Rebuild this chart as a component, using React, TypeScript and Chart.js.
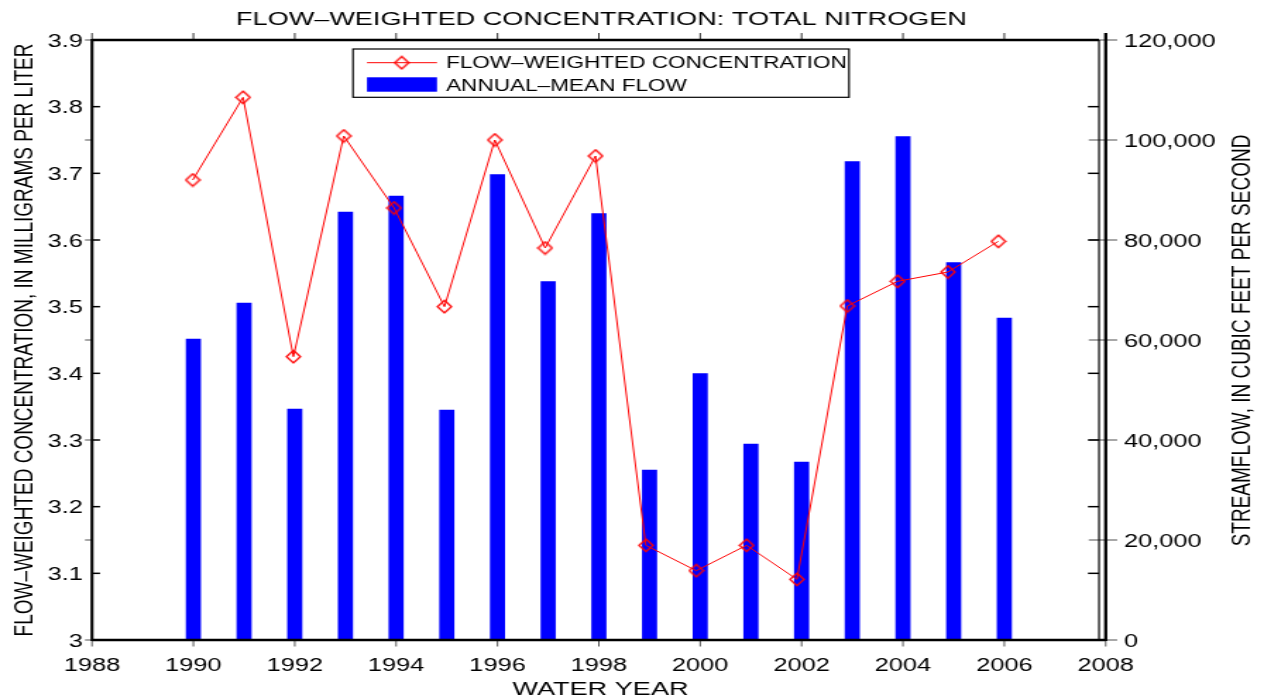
import React, { useEffect, useRef } from 'react';
import { Chart, registerables } from 'chart.js';

Chart.register(...registerables);

// ---- data ----
const years = [1990, 1991, 1992, 1993, 1994, 1995, 1996, 1997, 1998, 1999, 2000, 2001, 2002, 2003, 2004, 2005, 2006];
const concentration = [3.69, 3.814, 3.425, 3.756, 3.648, 3.5, 3.75, 3.588, 3.726, 3.142, 3.104, 3.142, 3.091, 3.501, 3.538, 3.552, 3.598];
const meanFlow = [60200, 67400, 46200, 85600, 88800, 46000, 93100, 71700, 85300, 34000, 53300, 39200, 35600, 95700, 100700, 75500, 64400];

const yearTicks = [1988, 1990, 1992, 1994, 1996, 1998, 2000, 2002, 2004, 2006, 2008];
const concTicks = [3, 3.1, 3.2, 3.3, 3.4, 3.5, 3.6, 3.7, 3.8, 3.9];
const concTickLabels = ['3', '3.1', '3.2', '3.3', '3.4', '3.5', '3.6', '3.7', '3.8', '3.9'];
const flowTicks = [0, 20000, 40000, 60000, 80000, 100000, 120000];
const flowTickLabels = ['0', '20,000', '40,000', '60,000', '80,000', '100,000', '120,000'];

const titleText = 'FLOW\u2013WEIGHTED CONCENTRATION: TOTAL NITROGEN';
const leftAxisTitle = 'FLOW\u2013WEIGHTED CONCENTRATION, IN MILLIGRAMS PER LITER';
const rightAxisTitle = 'STREAMFLOW, IN CUBIC FEET PER SECOND';
const xAxisTitle = 'WATER YEAR';
const concLabel = 'FLOW\u2013WEIGHTED CONCENTRATION';
const flowLabel = 'ANNUAL\u2013MEAN FLOW';

// ---- layout ----
// The canvas is rendered at a narrower backing width and widened with CSS,
// which gives the wide lettering of the figure.
const PAGE_W = 1264;
const H = 696;
const W = 896;
const S = PAGE_W / W;
const X = (v: number) => v / S; // page px -> canvas px (horizontal)

const PLOT_LEFT = X(92);
const PLOT_RIGHT = X(1105.7);
const INNER_RIGHT = X(1099);
const PLOT_TOP = 40;
const PLOT_BOTTOM = 640;

const FONT = '"Liberation Sans", Arial, Helvetica, sans-serif';

function makeDiamond(color: string): HTMLCanvasElement {
  const c = document.createElement('canvas');
  c.width = 12;
  c.height = 15;
  const g = c.getContext('2d')!;
  g.strokeStyle = color;
  g.lineWidth = 1.3;
  g.beginPath();
  g.moveTo(6, 1.25);
  g.lineTo(11, 7.5);
  g.lineTo(6, 13.75);
  g.lineTo(1, 7.5);
  g.closePath();
  g.stroke();
  return c;
}

function line(ctx: CanvasRenderingContext2D, x1: number, y1: number, x2: number, y2: number) {
  ctx.beginPath();
  ctx.moveTo(x1, y1);
  ctx.lineTo(x2, y2);
  ctx.stroke();
}

const framePlugin = {
  id: 'frame',
  afterDraw(chart: any) {
    const { ctx, chartArea, scales } = chart;
    const xs = scales.x;
    const ys = scales.y;
    const y2 = scales.y2;
    const x2 = scales.x2;
    const left = chartArea.left;
    const right = chartArea.right;
    const top = chartArea.top;
    const bottom = chartArea.bottom;
    const innerRight = x2.getPixelForValue(2008);

    ctx.save();

    // streamflow ticks (grey)
    ctx.strokeStyle = '#8a8a8a';
    ctx.lineWidth = 1.5;
    flowTicks.forEach((v) => {
      const y = y2.getPixelForValue(v);
      line(ctx, left - X(7), y, left, y);
      line(ctx, right - X(17), y, right + X(11.5), y);
    });

    // concentration ticks (inward, both sides of the inner box)
    ctx.strokeStyle = '#000';
    ctx.lineWidth = 1.5;
    concTicks.forEach((v) => {
      const y = ys.getPixelForValue(v);
      line(ctx, left, y, left + X(8), y);
      line(ctx, innerRight, y, innerRight - X(11), y);
    });

    // year ticks
    ctx.lineWidth = 1;
    yearTicks.forEach((v) => {
      const x = xs.getPixelForValue(v);
      ctx.strokeStyle = '#555';
      line(ctx, x, bottom, x, bottom + 6.5);
      ctx.strokeStyle = '#333';
      line(ctx, x, top, x, top - 7);
    });

    // axes lines
    ctx.strokeStyle = '#000';
    ctx.lineWidth = 2.1;
    line(ctx, left, top - 1, left, bottom + 1);
    ctx.lineWidth = 2.3;
    line(ctx, left, top, innerRight, top);
    line(ctx, left, bottom, right, bottom);
    ctx.lineWidth = 1.2;
    line(ctx, innerRight, top, innerRight, bottom);
    ctx.lineWidth = 2.3;
    line(ctx, right, top - 7, right, bottom + 1);

    // tick labels
    ctx.fillStyle = '#000';
    ctx.font = `18px ${FONT}`;
    ctx.textBaseline = 'alphabetic';
    ctx.textAlign = 'right';
    concTicks.forEach((v, i) => {
      ctx.fillText(concTickLabels[i], X(83), ys.getPixelForValue(v) + 6.6);
    });
    ctx.textAlign = 'left';
    flowTicks.forEach((v, i) => {
      ctx.fillText(flowTickLabels[i], X(1124), y2.getPixelForValue(v) + 6.6);
    });
    ctx.textAlign = 'center';
    yearTicks.forEach((v) => {
      ctx.fillText(String(v), xs.getPixelForValue(v), 670.7);
    });

    // titles
    ctx.font = `19.2px ${FONT}`;
    ctx.fillText(titleText, X(601.5), 25);
    ctx.fillText(xAxisTitle, X(600.5), 694.5);

    ctx.font = `19px ${FONT}`;
    const capHalf = 6.8;
    ctx.save();
    ctx.translate(X(23.3), 340);
    ctx.rotate(-Math.PI / 2);
    ctx.fillText(leftAxisTitle, 0, capHalf);
    ctx.restore();

    ctx.save();
    ctx.translate(X(1240.7), 340.5);
    ctx.rotate(-Math.PI / 2);
    ctx.fillText(rightAxisTitle, 0, capHalf);
    ctx.restore();

    // legend
    const ds = chart.data.datasets;
    const lineDs = ds[0];
    const barDs = ds[1];
    ctx.fillStyle = '#fff';
    ctx.fillRect(X(353), 49, X(849) - X(353), 48.3);
    ctx.strokeStyle = '#000';
    ctx.lineWidth = 1.2;
    ctx.strokeRect(X(353), 49, X(849) - X(353), 48.3);

    ctx.strokeStyle = lineDs.borderColor;
    ctx.lineWidth = 1;
    line(ctx, X(367), 62.7, X(437), 62.7);
    const img = lineDs.pointStyle as HTMLCanvasElement;
    ctx.drawImage(img, X(401.7) - img.width / 2, 62.7 - img.height / 2);

    ctx.fillStyle = barDs.backgroundColor;
    ctx.fillRect(X(367), 77.3, X(437) - X(367), 14.4);

    ctx.fillStyle = '#000';
    ctx.font = `16px ${FONT}`;
    ctx.textAlign = 'left';
    ctx.fillText(lineDs.label, X(446), 68.3);
    ctx.fillText(barDs.label, X(446), 90.7);

    ctx.restore();
  },
};

export default function App() {
  const ref = useRef<HTMLCanvasElement | null>(null);

  useEffect(() => {
    if (!ref.current) return;
    const diamond = makeDiamond('#ff0000');
    // the concentration series sits on a slightly narrower inner box
    const x2Max = 1988 + (20 * (PLOT_RIGHT - PLOT_LEFT)) / (INNER_RIGHT - PLOT_LEFT);

    const chart = new Chart(ref.current, {
      type: 'bar',
      data: {
        datasets: [
          {
            type: 'line',
            label: concLabel,
            data: years.map((yr, i) => ({ x: yr, y: concentration[i] })),
            xAxisID: 'x2',
            yAxisID: 'y',
            borderColor: '#ff0000',
            backgroundColor: 'rgba(0,0,0,0)',
            borderWidth: 1,
            pointStyle: diamond as any,
            pointRadius: 6,
            tension: 0,
            fill: false,
            order: 0,
          } as any,
          {
            type: 'bar',
            label: flowLabel,
            data: years.map((yr, i) => ({ x: yr, y: meanFlow[i] })),
            xAxisID: 'x',
            yAxisID: 'y2',
            backgroundColor: '#0000ff',
            borderWidth: 0,
            barThickness: X(14.2),
            grouped: false,
            order: 1,
          } as any,
        ],
      },
      options: {
        responsive: false,
        devicePixelRatio: 1,
        animation: false,
        layout: {
          padding: {
            left: PLOT_LEFT,
            right: W - PLOT_RIGHT,
            top: PLOT_TOP,
            bottom: H - PLOT_BOTTOM,
          },
        },
        scales: {
          x: { type: 'linear', min: 1988, max: 2008, display: false, offset: false },
          x2: { type: 'linear', min: 1988, max: x2Max, display: false, offset: false },
          y: { type: 'linear', min: 3, max: 3.9, display: false },
          y2: { type: 'linear', min: 0, max: 120000, display: false },
        },
        plugins: {
          legend: { display: false },
          tooltip: { enabled: false },
          title: { display: false },
        },
      },
      plugins: [framePlugin],
    });

    return () => chart.destroy();
  }, []);

  return (
    <canvas
      ref={ref}
      width={W}
      height={H}
      style={{ position: 'absolute', left: 0, top: 0, width: `${PAGE_W}px`, height: `${H}px` }}
    />
  );
}
